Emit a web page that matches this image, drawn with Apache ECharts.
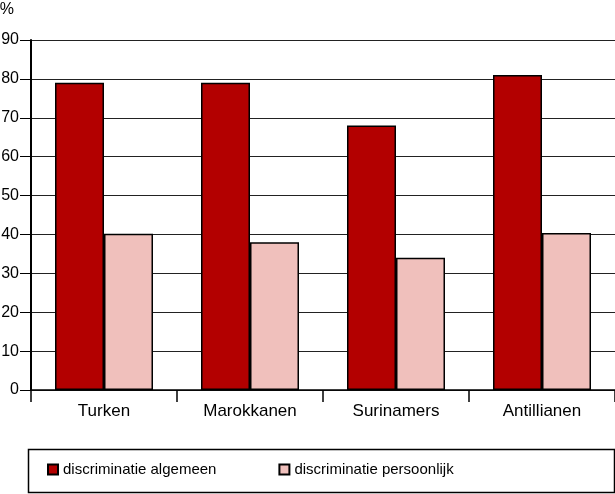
<!DOCTYPE html>
<html><head><meta charset="utf-8">
<script src="https://cdn.jsdelivr.net/npm/echarts@6/dist/echarts.min.js"></script>
<style>html,body{margin:0;padding:0;background:#fff}#c{width:615px;height:494px}</style>
</head><body><div id="c"></div>
<script>
var categories = ['Turken', 'Marokkanen', 'Surinamers', 'Antillianen'];
var algemeen = [79, 79, 68, 81];
var persoonlijk = [40.2, 38, 34, 40.4];
var seriesNames = ['discriminatie algemeen', 'discriminatie persoonlijk'];
var yUnit = '%';

var font = 'Liberation Sans, Arial, sans-serif';
var chart = echarts.init(document.getElementById('c'));
chart.setOption({
  animation: false,
  textStyle: {fontFamily: font},
  grid: {left: 31, right: 0, top: 40, bottom: 104, containLabel: false, outerBoundsMode: 'none'},
  graphic: [{type: 'rect', left: 26, top: 447, shape: {width: 586, height: 43}, style: {fill: 'none', stroke: '#000', lineWidth: 1.5}, silent: true}],
  legend: {
    left: 42, top: 457, itemWidth: 10, itemHeight: 10, itemGap: 62, icon: 'rect',
    textStyle: {fontSize: 15, color: '#000', fontFamily: font},
    data: seriesNames
  },
  xAxis: {
    type: 'category', data: categories,
    axisLine: {lineStyle: {color: '#000', width: 1.5}},
    axisTick: {show: true, interval: 0, length: 12, lineStyle: {color: '#000', width: 1.5}},
    axisLabel: {fontSize: 17, color: '#000', margin: 13, fontFamily: font}
  },
  yAxis: {
    type: 'value', min: 0, max: 90, interval: 10, name: yUnit,
    nameLocation: 'end', nameGap: 22,
    nameTextStyle: {fontSize: 16, color: '#000', align: 'right', padding: [0, 17, 0, 0], fontFamily: font},
    axisLine: {show: true, lineStyle: {color: '#000', width: 2}},
    axisTick: {show: true, length: 11, lineStyle: {color: '#000', width: 1}},
    axisLabel: {fontSize: 16, color: '#000', margin: 12, fontFamily: font},
    splitLine: {lineStyle: {color: '#222', width: 1}}
  },
  series: [
    {name: seriesNames[0], type: 'bar', data: algemeen, barWidth: 49, barGap: '0%',
     itemStyle: {color: '#b30000', borderColor: '#000', borderWidth: 1.5}},
    {name: seriesNames[1], type: 'bar', data: persoonlijk, barWidth: 49,
     itemStyle: {color: '#f0c0bc', borderColor: '#000', borderWidth: 1.5}}
  ]
});
</script></body></html>
